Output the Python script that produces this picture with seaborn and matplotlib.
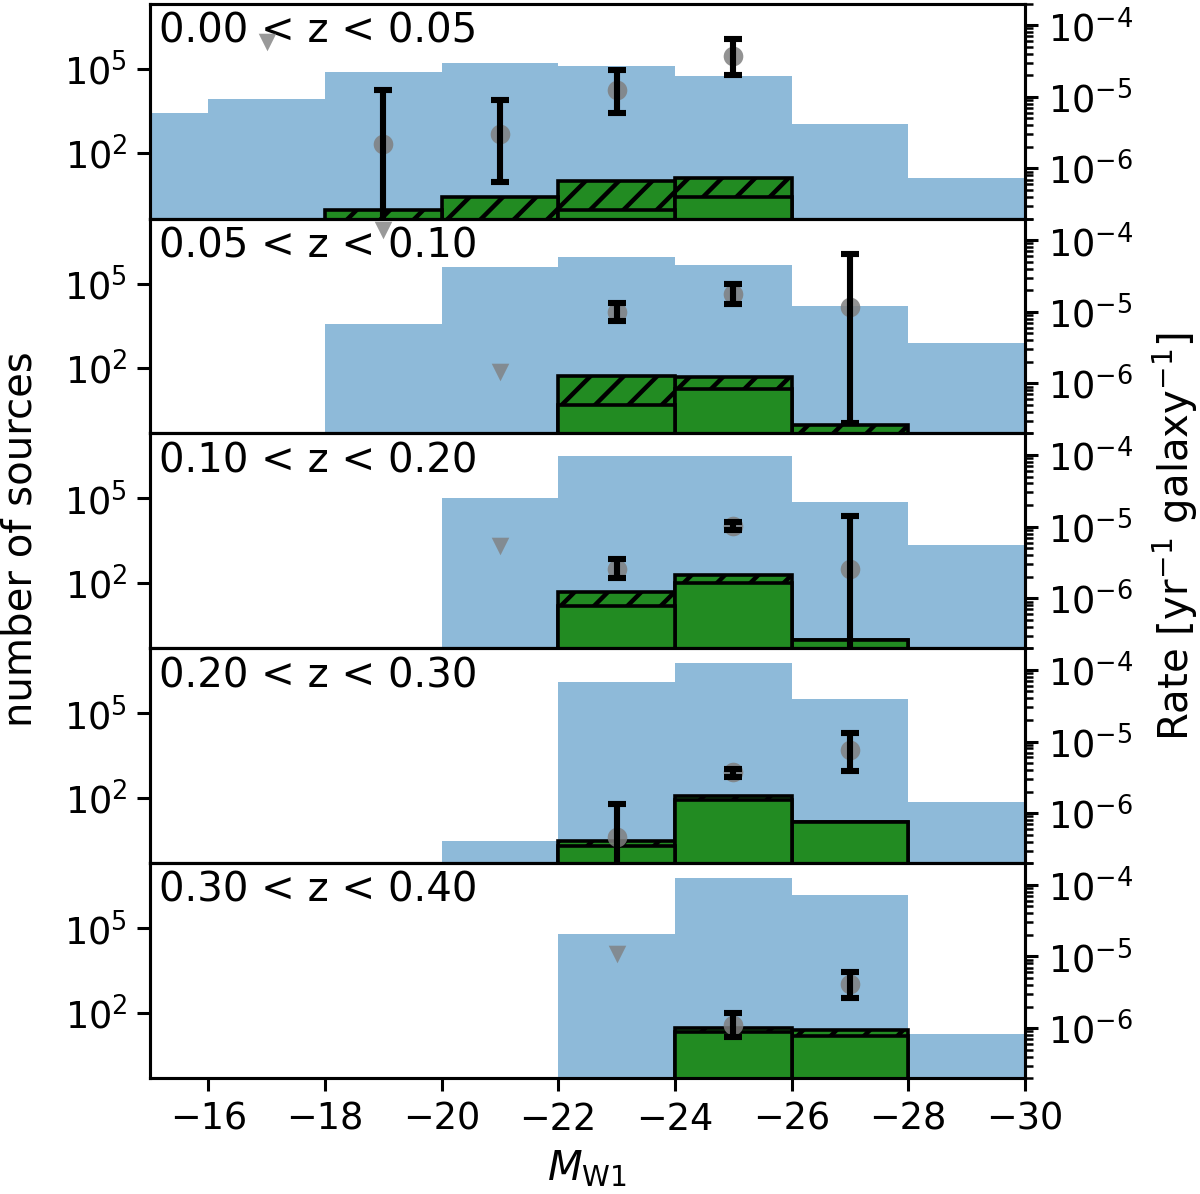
import numpy as np
import matplotlib
matplotlib.use("Agg")
import matplotlib.pyplot as plt
import seaborn as sns
from matplotlib.ticker import NullLocator, LogLocator

# magnitude bins (M_W1), 2 mag wide
bin_edges = [-30, -28, -26, -24, -22, -20, -18, -16, -14]
bin_centers = [-15, -17, -19, -21, -23, -25, -27, -29]

z_ranges = [(0.00, 0.05), (0.05, 0.10), (0.10, 0.20), (0.20, 0.30), (0.30, 0.40)]

# number of galaxies per bin (blue), order follows bin_centers
galaxies = [
    [2700, 8300, 74000, 158000, 120000, 56000, 1100, 13],
    [0, 0, 3800, 380000, 850000, 450000, 16000, 780],
    [0, 0, 0, 100000, 3.3e6, 3.2e6, 76000, 2200],
    [0, 0, 0, 3, 1.3e6, 6.1e6, 330000, 74],
    [0, 0, 0, 0, 61000, 5.9e6, 1.45e6, 18],
]

# all sources (hatched green)
sources_all = [
    [0, 0, 1, 3, 11, 14, 0, 0],
    [0, 0, 0, 0, 52, 48, 1, 0],
    [0, 0, 0, 0, 50, 190, 1, 0],
    [0, 0, 0, 0, 3, 117, 14, 0],
    [0, 0, 0, 0, 0, 29, 26, 0],
]

# subset of sources (solid green)
sources_sub = [
    [0, 0, 0, 0, 1, 3, 0, 0],
    [0, 0, 0, 0, 5, 19, 0, 0],
    [0, 0, 0, 0, 16, 105, 1, 0],
    [0, 0, 0, 0, 2, 85, 14, 0],
    [0, 0, 0, 0, 0, 21, 16, 0],
]

# rates [yr^-1 galaxy^-1] with lower / upper bounds (nan = no point)
nan = np.nan
rate = [
    [nan, nan, 2.2e-6, 3.0e-6, 1.25e-5, 3.7e-5, nan, nan],
    [nan, nan, nan, nan, 1.0e-5, 1.78e-5, 1.17e-5, nan],
    [nan, nan, nan, nan, 2.6e-6, 1.02e-5, 2.6e-6, nan],
    [nan, nan, nan, nan, 4.6e-7, 3.7e-6, 7.6e-6, nan],
    [nan, nan, nan, nan, nan, 1.1e-6, 4.07e-6, nan],
]
rate_lo = [
    [nan, nan, 1e-9, 6.4e-7, 5.9e-6, 2.0e-5, nan, nan],
    [nan, nan, nan, nan, 7.3e-6, 1.27e-5, 2.8e-7, nan],
    [nan, nan, nan, nan, 1.9e-6, 9.0e-6, 1e-9, nan],
    [nan, nan, nan, nan, 1e-9, 3.2e-6, 3.9e-6, nan],
    [nan, nan, nan, nan, nan, 7.4e-7, 2.6e-6, nan],
]
rate_hi = [
    [nan, nan, 1.23e-5, 9.1e-6, 2.34e-5, 6.4e-5, nan, nan],
    [nan, nan, nan, nan, 1.33e-5, 2.4e-5, 6.4e-5, nan],
    [nan, nan, nan, nan, 3.5e-6, 1.16e-5, 1.4e-5, nan],
    [nan, nan, nan, nan, 1.35e-6, 4.2e-6, 1.33e-5, nan],
    [nan, nan, nan, nan, nan, 1.63e-6, 6.1e-6, nan],
]
# upper limits where no source was found
rate_ul = [
    [nan, 5.9e-5, nan, nan, nan, nan, nan, nan],
    [nan, nan, 1.4e-4, 1.45e-6, nan, nan, nan, nan],
    [nan, nan, nan, 5.4e-6, nan, nan, nan, nan],
    [nan, nan, nan, nan, nan, nan, nan, nan],
    [nan, nan, nan, nan, 1.1e-5, nan, nan, nan],
]

sns.set_style("ticks", rc={
    "axes.edgecolor": "black", "xtick.color": "black", "ytick.color": "black",
    "text.color": "black", "axes.labelcolor": "black",
})
plt.rcParams["font.family"] = ["DejaVu Sans"]
plt.rcParams.update({
    "axes.linewidth": 1.1,
    "xtick.major.size": 4.7, "ytick.major.size": 4.7,
    "xtick.minor.size": 2.7, "ytick.minor.size": 2.7,
    "xtick.major.width": 1.1, "ytick.major.width": 1.1,
    "xtick.minor.width": 0.9, "ytick.minor.width": 0.9,
    "xtick.labelsize": 13.2, "ytick.labelsize": 13.2,
    "hatch.linewidth": 1.6,
})


def hist_layer(ax, counts, **kw):
    counts = np.asarray(counts, dtype=float)
    keep = counts > 0
    if not keep.any():
        return
    x = np.asarray(bin_centers)[keep]
    sns.histplot(x=x, weights=counts[keep], bins=bin_edges, ax=ax,
                 element="bars", stat="count", **kw)


fig, axes = plt.subplots(5, 1, sharex=True, figsize=(6, 5.97), dpi=200)
fig.subplots_adjust(left=0.125, right=0.854, top=0.997, bottom=0.097, hspace=0)

for i, ax in enumerate(axes):
    ax.set_yscale("log")
    hist_layer(ax, galaxies[i], color="tab:blue", alpha=0.5, linewidth=0)
    hist_layer(ax, sources_all[i], facecolor="forestgreen", edgecolor="black",
               linewidth=1.3, hatch="//", alpha=1)
    hist_layer(ax, sources_sub[i], facecolor="forestgreen", edgecolor="black",
               linewidth=1.3, alpha=1)
    ax.set_ylim(0.5, 2e7)
    ax.set_yticks([1e2, 1e5])
    ax.yaxis.set_minor_locator(NullLocator())
    ax.set_ylabel("")
    ax.set_xlim(-15, -30)
    lo, hi = z_ranges[i]
    ax.text(0.01, 0.82, f"{lo:.2f} < z < {hi:.2f}", transform=ax.transAxes,
            fontsize=14.5, va="baseline", ha="left", zorder=5)

    ax2 = ax.twinx()
    ax2.set_yscale("log")
    r = np.asarray(rate[i])
    lo_err = r - np.asarray(rate_lo[i])
    hi_err = np.asarray(rate_hi[i]) - r
    ok = ~np.isnan(r)
    xc = np.asarray(bin_centers)
    sns.scatterplot(x=xc[ok], y=r[ok], ax=ax2, color="grey", s=50,
                    alpha=0.85, linewidth=0, zorder=3)
    ax2.errorbar(xc[ok], r[ok], yerr=[lo_err[ok], hi_err[ok]], fmt="none",
                 ecolor="black", elinewidth=2.2, capsize=3.2, capthick=2.2,
                 zorder=4)
    ul = np.asarray(rate_ul[i])
    okul = ~np.isnan(ul)
    if okul.any():
        sns.scatterplot(x=xc[okul], y=ul[okul], ax=ax2, color="grey",
                        marker="v", s=40, alpha=0.8, linewidth=0, zorder=3)
    ax2.set_ylim(2e-7, 2e-4)
    ax2.set_yticks([1e-6, 1e-5, 1e-4])
    ax2.yaxis.set_minor_locator(LogLocator(base=10, subs=np.arange(2, 10), numticks=10))

    if i < len(axes) - 1:
        ax.tick_params(axis="x", which="both", bottom=False)

axes[-1].set_xticks([-16, -18, -20, -22, -24, -26, -28, -30])
axes[-1].set_xlabel(r"$M_{\rm W1}$", fontsize=14.5)

fig.text(0.0175, 1 - 539 / 1194, "number of sources", rotation=90,
         va="center", ha="center", fontsize=14.5)
fig.text(0.979, 1 - 537 / 1194, r"Rate [yr$^{-1}$ galaxy$^{-1}$]", rotation=90,
         va="center", ha="center", fontsize=14.5)

fig.savefig("out.png", dpi=200)
